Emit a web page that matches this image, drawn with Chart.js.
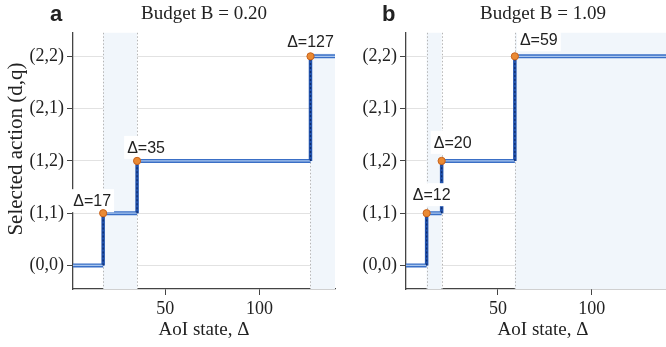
<!DOCTYPE html>
<html>
<head>
<meta charset="utf-8">
<script src="https://cdn.jsdelivr.net/npm/chart.js@4.4.1/dist/chart.umd.min.js"></script>
<style>
  body { margin: 0; background: #fff; overflow: hidden; width: 666px; height: 347px; position: relative; }
  canvas { position: absolute; top: 0; }
  .tag { position: absolute; top: 3px; font: bold 22px "Liberation Sans", Arial, sans-serif; line-height: 22px; color: #222; }
</style>
</head>
<body>
<canvas id="chartA" width="340" height="347" style="left:0"></canvas>
<canvas id="chartB" width="345" height="347" style="left:340px"></canvas>
<div class="tag" style="left:50px">a</div>
<div class="tag" style="left:382px">b</div>
<script>
// y categories (selected action) and x ticks
const yLabels = ['(0,0)', '(1,1)', '(1,2)', '(2,1)', '(2,2)'];
const xTicks = [50, 100];
const xStart = 1;

// panel a
const titleA = 'Budget B = 0.20';
const xEndA = 140;
const jumpsA = [17, 35, 127];
const actionsA = ['(0,0)', '(1,1)', '(1,2)', '(2,2)'];
const shadeA = [[17, 35], [127, 140]];

// panel b (axis runs past the right edge of the picture)
const titleB = 'Budget B = 1.09';
const xEndB = 147;
const jumpsB = [12, 20, 59];
const actionsB = ['(0,0)', '(1,1)', '(1,2)', '(2,2)'];
const shadeB = [[12, 20], [59, 147]];

// label nudges (px) relative to the jump dot
const labelOffA = [[-11, -7], [9, -8], [0, -9]];
const labelOffB = [[5, -13], [11, -13], [24, -11]];

const serif = '"Liberation Serif", "Times New Roman", serif';
const sans = '"Liberation Sans", Arial, sans-serif';

function stepPoints(jumps, actions, xEnd) {
    const lv = actions.map(a => yLabels.indexOf(a));
    const pts = [{ x: xStart, y: lv[0] }];
    jumps.forEach((j, i) => {
        pts.push({ x: j, y: lv[i] });
        pts.push({ x: j, y: lv[i + 1] });
    });
    pts.push({ x: xEnd, y: lv[lv.length - 1] });
    return pts;
}

const isVert = ctx => ctx.p0.parsed.x === ctx.p1.parsed.x;

const shadePlugin = {
    id: 'shade',
    beforeDatasetsDraw(chart, args, opts) {
        const { ctx, chartArea: ca, scales: { x } } = chart;
        ctx.save();
        ctx.fillStyle = '#f1f6fb';
        opts.regions.forEach(([a, b]) => {
            const x0 = x.getPixelForValue(a), x1 = x.getPixelForValue(b);
            ctx.fillRect(x0, ca.top, x1 - x0, ca.bottom - ca.top);
        });
        ctx.strokeStyle = '#b5b5b5';
        ctx.lineWidth = 1;
        ctx.setLineDash([1.5, 2]);
        opts.lines.forEach(v => {
            const px = Math.round(x.getPixelForValue(v)) + 0.5;
            ctx.beginPath();
            ctx.moveTo(px, ca.top);
            ctx.lineTo(px, ca.bottom);
            ctx.stroke();
        });
        ctx.restore();
    }
};

const labelPlugin = {
    id: 'jumpLabels',
    afterDatasetDraw(chart, args, opts) {
        if (args.index !== 1) return;
        const { ctx, scales: { x, y } } = chart;
        ctx.save();
        ctx.font = '16px ' + sans;
        ctx.textAlign = 'center';
        ctx.textBaseline = 'alphabetic';
        opts.jumps.forEach((j, i) => {
            const px = x.getPixelForValue(j) + opts.off[i][0];
            const py = y.getPixelForValue(yLabels.indexOf(opts.actions[i + 1])) + opts.off[i][1];
            const txt = '\u0394=' + j;
            const w = ctx.measureText(txt).width;
            ctx.fillStyle = '#fff';
            ctx.fillRect(px - w / 2 - 3, py - 17, w + 6, 23);
            ctx.fillStyle = '#222';
            ctx.fillText(txt, px, py);
        });
        ctx.restore();
    }
};

// y axis title, drawn a little above the axis centre as in the reference
const yTitlePlugin = {
    id: 'yTitle',
    afterDraw(chart, args, opts) {
        if (!opts.text) return;
        const ctx = chart.ctx;
        ctx.save();
        ctx.translate(opts.x, opts.y);
        ctx.rotate(-Math.PI / 2);
        ctx.font = opts.size + 'px ' + serif;
        ctx.fillStyle = '#222';
        ctx.textAlign = 'center';
        ctx.textBaseline = 'middle';
        ctx.fillText(opts.text, 0, 0);
        ctx.restore();
    }
};

function makePanel(id, title, xEnd, jumps, actions, shade, off, yw, padRight, yTitle) {
    const pts = stepPoints(jumps, actions, xEnd);
    const dots = jumps.map((j, i) => ({ x: j, y: yLabels.indexOf(actions[i + 1]) }));
    return new Chart(document.getElementById(id), {
        type: 'line',
        data: {
            datasets: [{
                data: dots,
                showLine: false,
                pointRadius: 3.6,
                pointBackgroundColor: '#ea8a33',
                pointBorderColor: '#c8621c',
                pointBorderWidth: 1
            }, {
                data: pts,
                pointRadius: 0,
                borderWidth: 1.3,
                borderColor: '#a9c6ee',
                segment: {
                    borderColor: ctx => isVert(ctx) ? '#0e2c6e' : '#a9c6ee',
                    borderDash: ctx => isVert(ctx) ? [2, 2] : undefined
                }
            }, {
                data: pts,
                pointRadius: 0,
                borderWidth: 4,
                borderColor: '#3a6fc6',
                segment: {
                    borderColor: ctx => isVert(ctx) ? '#2253ad' : '#3a6fc6',
                    borderWidth: ctx => isVert(ctx) ? 3.5 : 4
                }
            }]
        },
        options: {
            responsive: false,
            animation: false,
            devicePixelRatio: 1,
            layout: { padding: { left: 0, right: padRight, top: 0, bottom: 0 } },
            plugins: {
                legend: { display: false },
                tooltip: { enabled: false },
                title: {
                    display: true,
                    text: title,
                    fullSize: false,
                    color: '#222',
                    font: { family: serif, size: 19, weight: 'normal' },
                    padding: { top: 3, bottom: 7 }
                },
                shade: { regions: shade, lines: jumps },
                jumpLabels: { jumps: jumps, actions: actions, off: off },
                yTitle: { text: yTitle, x: 16, y: 149, size: 21 }
            },
            scales: {
                x: {
                    type: 'linear',
                    min: xStart,
                    max: xEnd,
                    afterBuildTicks: ax => { ax.ticks = xTicks.map(v => ({ value: v })); },
                    afterFit: ax => { ax.height = 58; },
                    grid: { drawOnChartArea: false, tickLength: 6, tickColor: '#444' },
                    border: { color: '#444', width: 1.3 },
                    ticks: { color: '#222', padding: 3, maxRotation: 0, font: { family: serif, size: 18 } },
                    title: {
                        display: true,
                        text: 'AoI state, \u0394',
                        color: '#222',
                        font: { family: serif, size: 19 },
                        padding: { top: 0, bottom: 6 }
                    }
                },
                y: {
                    type: 'linear',
                    min: -0.45,
                    max: 4.45,
                    afterBuildTicks: ax => { ax.ticks = yLabels.map((_, i) => ({ value: i })); },
                    afterFit: ax => { ax.width = yw; },
                    grid: { color: '#e2e2e2', lineWidth: 1, tickLength: 6, tickColor: '#444' },
                    border: { color: '#444', width: 1.3 },
                    ticks: {
                        color: '#222',
                        padding: 3,
                        font: { family: serif, size: 18 },
                        callback: v => yLabels[v]
                    }
                }
            }
        },
        plugins: [shadePlugin, labelPlugin, yTitlePlugin]
    });
}

makePanel('chartA', titleA, xEndA, jumpsA, actionsA, shadeA, labelOffA, 73, 2, 'Selected action (d,q)');
makePanel('chartB', titleB, xEndB, jumpsB, actionsB, shadeB, labelOffB, 66, 2, '');
</script>
</body>
</html>
